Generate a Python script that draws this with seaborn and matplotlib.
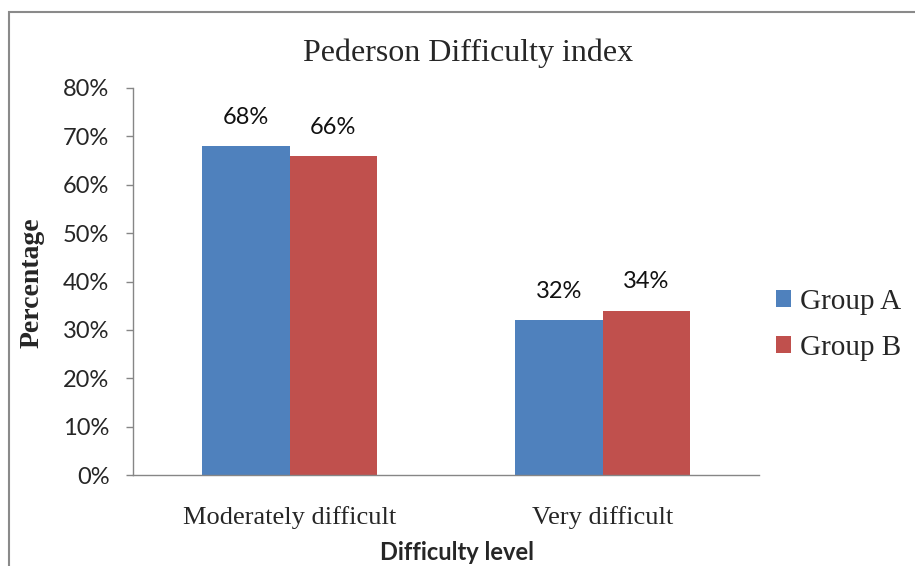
import pandas as pd
import matplotlib.pyplot as plt
import seaborn as sns
from matplotlib.patches import Rectangle

# Chart data
levels = ['Moderately difficult', 'Very difficult']
group_a = [68, 32]
group_b = [66, 34]
groups = ['Group A', 'Group B']
y_ticks = [0, 10, 20, 30, 40, 50, 60, 70, 80]

df = pd.DataFrame({
    'level': levels * 2,
    'group': [groups[0]] * 2 + [groups[1]] * 2,
    'pct': group_a + group_b,
})

sns.set_style('white')
colors = ['#4F81BD', '#C0504D']
grey = '#868686'
sans = ['Lato', 'DejaVu Sans']
serif = ['Liberation Serif', 'DejaVu Serif']

fig = plt.figure(figsize=(9.15, 5.66), dpi=100)
ax = fig.add_axes([133 / 915, 1 - 475 / 566, 626 / 915, 387 / 566])

sns.barplot(data=df, x='level', y='pct', hue='group', palette=colors,
            width=0.56, ax=ax, saturation=1, edgecolor='none')

# bar value labels
for cont in ax.containers:
    ax.bar_label(cont, labels=[f'{v:.0f}%' for v in cont.datavalues],
                 padding=13, fontsize=17, family=sans, color='#111111')

ax.set_ylim(0, 80)
ax.set_xlim(-0.5, 1.5)
ax.set_yticks(y_ticks)
ax.set_yticklabels([f'{v}%' for v in y_ticks], fontsize=17, family=sans)
ax.set_xticks([0, 1])
ax.set_xticklabels(levels, fontsize=19, family=serif)
ax.set_xticks([-0.5, 0.5, 1.5], minor=True)
ax.tick_params(axis='x', which='major', length=0, pad=22)
ax.tick_params(axis='x', which='minor', length=5, color=grey, width=1)
ax.tick_params(axis='y', length=5, color=grey, width=1, left=True, pad=12)

for side in ['top', 'right']:
    ax.spines[side].set_visible(False)
for side in ['left', 'bottom']:
    ax.spines[side].set_color(grey)
    ax.spines[side].set_linewidth(1)

ax.set_xlabel('')
ax.set_ylabel('')
fig.text(457 / 915, 1 - 553 / 566, 'Difficulty level', ha='center', va='center',
         fontsize=17, fontweight='bold', family=sans)
fig.text(32 / 915, 1 - 283 / 566, 'Percentage', ha='center', va='center',
         rotation=90, fontsize=20, fontweight='bold', family=serif)
fig.text(468 / 915, 1 - 53 / 566, 'Pederson Difficulty index', ha='center',
         va='center', fontsize=23, family=serif)

handles, labels = ax.get_legend_handles_labels()
ax.legend(handles, labels, loc='center left', frameon=False,
          bbox_to_anchor=(750 / 915, 1 - 325 / 566), bbox_transform=fig.transFigure,
          prop={'family': serif, 'size': 21}, handlelength=0.52, handleheight=0.52,
          handletextpad=0.3, labelspacing=0.7)

# outer chart border
fig.patches.append(Rectangle((9 / 915, -0.05), 1.0, 1 - 12 / 566 + 0.05,
                             transform=fig.transFigure, fill=False,
                             edgecolor='#8a8a8a', linewidth=1.5))

fig.savefig('out.png', dpi=100)
